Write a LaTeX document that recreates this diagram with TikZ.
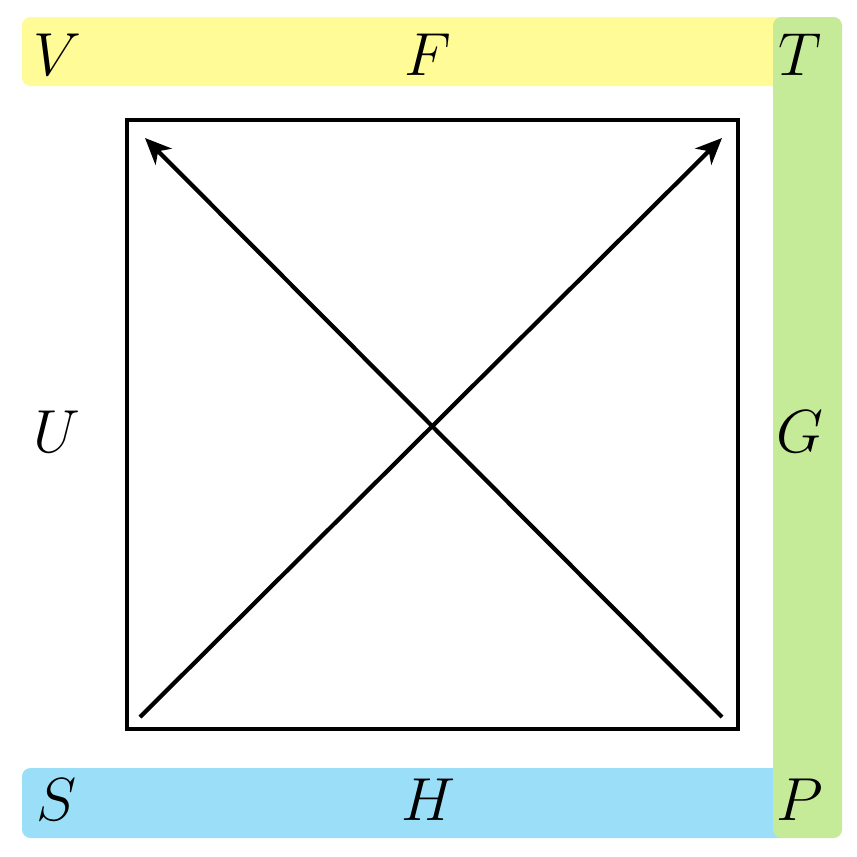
\documentclass[tikz,border=0pt]{standalone}
\usetikzlibrary{arrows.meta}
\definecolor{bandyellow}{RGB}{255,251,150}
\definecolor{bandgreen}{RGB}{197,234,152}
\definecolor{bandblue}{RGB}{154,223,247}
\tikzset{
  band/.style={rounded corners=2.4pt},
  potential/.style={font=\fontsize{19}{22}\selectfont},
  diag/.style={line width=1.2pt, -{Stealth[length=7.5pt,width=6.5pt,inset=2.2pt]}}
}
\begin{document}
\begin{tikzpicture}[x=0.01cm, y=-0.01cm]
    \useasboundingbox (0,0) rectangle (857,857);
    % Bands
    \fill[bandyellow, band] (22,17) rectangle (790,86);
    \fill[bandblue, band] (22,768) rectangle (790,838);
    \fill[bandgreen, band] (773,17) rectangle (842,838);
    % Square
    \draw[line width=1.2pt] (127,120) rectangle (738,729);
    % Corners of the diagonals
    \coordinate (sw) at (140,717);
    \coordinate (ne) at (722,138);
    \coordinate (se) at (722,717);
    \coordinate (nw) at (145,138);
    \draw[diag] (sw) -- (ne);
    \draw[diag] (se) -- (nw);
    % Labels
    \node[potential] (V) at (57,55) {$V$};
    \node[potential] (F) at (428,55) {$F$};
    \node[potential] (T) at (800,55) {$T$};
    \node[potential] (U) at (57,432) {$U$};
    \node[potential] (G) at (800,432) {$G$};
    \node[potential] (S) at (57,800) {$S$};
    \node[potential] (H) at (428,800) {$H$};
    \node[potential] (P) at (800,800) {$P$};
\end{tikzpicture}
\end{document}
